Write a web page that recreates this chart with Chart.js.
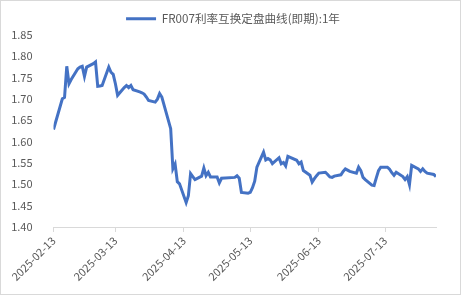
<!DOCTYPE html>
<html>
<head>
<meta charset="utf-8">
<script src="https://cdn.jsdelivr.net/npm/chart.js@4"></script>
<style>
  body { margin: 0; background: #fff; }
  .chart-container { width: 461px; height: 295px; }
</style>
</head>
<body>
<div class="chart-container">
  <canvas id="lineChart" width="461" height="295"></canvas>
</div>
<script>
const seriesName = 'FR007利率互换定盘曲线(即期):1年'
const startDate = '2025-02-13'
const tickDates = ['2025-02-13', '2025-03-13', '2025-04-13', '2025-05-13', '2025-06-13', '2025-07-13']
const yTicks = [1.40, 1.45, 1.50, 1.55, 1.60, 1.65, 1.70, 1.75, 1.80, 1.85]

const dates = [
  '2025-02-13', '2025-02-17', '2025-02-18', '2025-02-19', '2025-02-20', '2025-02-21',
  '2025-02-24', '2025-02-25', '2025-02-26', '2025-02-27', '2025-02-28',
  '2025-03-03', '2025-03-04', '2025-03-05', '2025-03-06', '2025-03-07',
  '2025-03-10', '2025-03-11', '2025-03-12', '2025-03-13', '2025-03-14',
  '2025-03-17', '2025-03-18', '2025-03-19', '2025-03-20', '2025-03-21',
  '2025-03-24', '2025-03-25', '2025-03-26', '2025-03-27', '2025-03-28',
  '2025-03-31', '2025-04-01', '2025-04-02', '2025-04-03',
  '2025-04-07', '2025-04-08', '2025-04-09', '2025-04-10', '2025-04-11',
  '2025-04-14', '2025-04-15', '2025-04-16', '2025-04-17', '2025-04-18',
  '2025-04-21', '2025-04-22', '2025-04-23', '2025-04-24', '2025-04-25',
  '2025-04-28', '2025-04-29', '2025-04-30',
  '2025-05-06', '2025-05-07', '2025-05-08', '2025-05-09',
  '2025-05-12', '2025-05-13', '2025-05-14', '2025-05-15', '2025-05-16',
  '2025-05-19', '2025-05-20', '2025-05-21', '2025-05-22', '2025-05-23',
  '2025-05-26', '2025-05-27', '2025-05-28', '2025-05-29', '2025-05-30',
  '2025-06-03', '2025-06-04', '2025-06-05', '2025-06-06',
  '2025-06-09', '2025-06-10', '2025-06-11', '2025-06-12', '2025-06-13',
  '2025-06-16', '2025-06-17', '2025-06-18', '2025-06-19', '2025-06-20',
  '2025-06-23', '2025-06-24', '2025-06-25', '2025-06-26', '2025-06-27',
  '2025-06-30', '2025-07-01', '2025-07-02', '2025-07-03', '2025-07-04',
  '2025-07-07', '2025-07-08', '2025-07-09', '2025-07-10', '2025-07-11',
  '2025-07-14', '2025-07-15', '2025-07-16', '2025-07-17', '2025-07-18',
  '2025-07-21', '2025-07-22', '2025-07-23', '2025-07-24', '2025-07-25',
  '2025-07-28', '2025-07-29', '2025-07-30', '2025-07-31', '2025-08-01',
  '2025-08-04', '2025-08-05'
]

const values = [
  1.628, 1.700, 1.703, 1.776, 1.735, 1.745,
  1.770, 1.774, 1.776, 1.752, 1.774,
  1.782, 1.786, 1.729, 1.730, 1.731,
  1.774, 1.762, 1.757, 1.735, 1.708,
  1.726, 1.731, 1.726, 1.731, 1.721,
  1.716, 1.714, 1.711, 1.704, 1.696,
  1.692, 1.699, 1.712, 1.704,
  1.630, 1.536, 1.547, 1.506, 1.501,
  1.457, 1.473, 1.525, 1.518, 1.511,
  1.519, 1.538, 1.520, 1.528, 1.517,
  1.517, 1.503, 1.514,
  1.516, 1.520, 1.514, 1.481,
  1.479, 1.481, 1.492, 1.507, 1.540,
  1.575, 1.557, 1.560, 1.557, 1.548,
  1.562, 1.548, 1.551, 1.543, 1.565,
  1.556, 1.548, 1.552, 1.532,
  1.521, 1.505, 1.513, 1.520, 1.526,
  1.528, 1.523, 1.517, 1.516, 1.519,
  1.522, 1.530, 1.536, 1.533, 1.530,
  1.526, 1.540, 1.532, 1.516, 1.511,
  1.498, 1.497, 1.515, 1.532, 1.540,
  1.540, 1.535, 1.527, 1.521, 1.528,
  1.518, 1.511, 1.518, 1.499, 1.544,
  1.536, 1.530, 1.536, 1.530, 1.526,
  1.523, 1.518
]

// day offsets from the first date, so the x axis is spaced like a date axis
const DAY = 86400000
const dayOf = d => Math.round((Date.parse(d) - Date.parse(startDate)) / DAY)
const dateOf = n => new Date(Date.parse(startDate) + n * DAY).toISOString().slice(0, 10)

const points = dates.map((d, k) => ({ x: dayOf(d), y: values[k] }))
const tickDays = tickDates.map(dayOf)

const textColor = '#595959'
const lineColor = '#d9d9d9'
const fontFamily = '"Noto Sans CJK SC", "Noto Sans", sans-serif'

// outer chart border, plus nudge the legend to the right like the original
const chartFrame = {
  id: 'chartFrame',
  afterLayout(chart) {
    chart.legend.left += 15
    chart.legend.right += 15
  },
  afterDraw(chart) {
    const c = chart.ctx
    c.save()
    c.strokeStyle = lineColor
    c.lineWidth = 1
    c.strokeRect(0.5, 0.5, chart.width - 1, chart.height - 1)
    c.restore()
  }
}

let ctx = document.getElementById('lineChart')
let lineChart = new Chart(ctx, {
  type: 'line',
  data: {
    datasets: [{
      label: seriesName,
      data: points,
      borderColor: '#4472C4',
      backgroundColor: '#4472C4',
      borderWidth: 3,
      pointRadius: 0,
      tension: 0,
      fill: false
    }]
  },
  options: {
    responsive: false,
    animation: false,
    layout: {
      padding: { top: 4, right: 25, left: 0, bottom: 0 }
    },
    plugins: {
      legend: {
        position: 'top',
        labels: {
          usePointStyle: true,
          pointStyle: 'line',
          pointStyleWidth: 30,
          padding: 9,
          color: textColor,
          font: { family: fontFamily, size: 11.6 }
        }
      },
      tooltip: { enabled: false }
    },
    scales: {
      x: {
        type: 'linear',
        min: 0,
        max: dayOf(dates[dates.length - 1]),
        afterBuildTicks: axis => {
          axis.ticks = tickDays.map(v => ({ value: v }))
        },
        afterFit: s => { s.height = 68 },
        ticks: {
          autoSkip: false,
          minRotation: 45,
          maxRotation: 45,
          padding: 2,
          color: textColor,
          font: { family: fontFamily, size: 11 },
          callback: v => dateOf(v)
        },
        grid: {
          drawOnChartArea: false,
          drawTicks: true,
          tickLength: 5,
          color: lineColor
        },
        border: { color: lineColor, width: 1 }
      },
      y: {
        min: 1.40,
        max: 1.85,
        afterBuildTicks: axis => {
          axis.ticks = yTicks.map(v => ({ value: v }))
        },
        afterFit: s => { s.width = 53.5 },
        ticks: {
          padding: 13,
          color: textColor,
          font: { family: fontFamily, size: 11 },
          callback: v => v.toFixed(2)
        },
        grid: { display: false },
        border: { display: false }
      }
    }
  },
  plugins: [chartFrame]
})
</script>
</body>
</html>
